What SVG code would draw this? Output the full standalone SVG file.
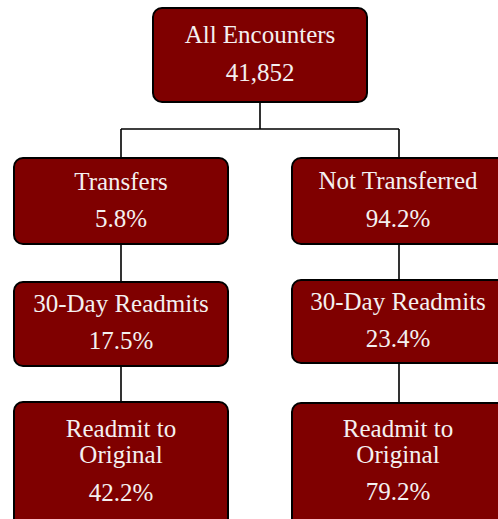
<svg xmlns="http://www.w3.org/2000/svg" width="498" height="519" viewBox="0 0 498 519">
<style>
.box{fill:#7f0000;stroke:#000;stroke-width:2}
.t{font-family:"Liberation Serif",serif;font-size:25px;fill:#f4f0f0;text-anchor:middle}
.c{stroke:#000;stroke-width:1.6;fill:none}
</style>
<rect width="498" height="519" fill="#fff"/>
<g id="connectors">
<path class="c" d="M260 102V129M121 129H399M121 129V158M399 129V158"/>
<path class="c" d="M121 244V282M399 244V280"/>
<path class="c" d="M121 366V402M399 363V403"/>
</g>
<g id="all"><rect class="box" x="153" y="8" width="214" height="94" rx="9"/>
<text class="t" x="260" y="43">All Encounters</text><text class="t" x="260" y="81">41,852</text></g>
<g id="transfers"><rect class="box" x="14" y="158" width="214" height="86" rx="9"/>
<text class="t" x="121" y="190">Transfers</text><text class="t" x="121" y="227">5.8%</text></g>
<g id="nottransferred"><rect class="box" x="292" y="158" width="214" height="86" rx="9"/>
<text class="t" x="398" y="189">Not Transferred</text><text class="t" x="398" y="227">94.2%</text></g>
<g id="readmitsL"><rect class="box" x="14" y="282" width="214" height="84" rx="9"/>
<text class="t" x="121" y="312">30-Day Readmits</text><text class="t" x="121" y="349">17.5%</text></g>
<g id="readmitsR"><rect class="box" x="292" y="280" width="214" height="83" rx="9"/>
<text class="t" x="398" y="310">30-Day Readmits</text><text class="t" x="398" y="347">23.4%</text></g>
<g id="originalL"><rect class="box" x="14" y="402" width="214" height="130" rx="9"/>
<text class="t" x="121" y="437">Readmit to</text><text class="t" x="121" y="463">Original</text><text class="t" x="121" y="501">42.2%</text></g>
<g id="originalR"><rect class="box" x="292" y="403" width="214" height="130" rx="9"/>
<text class="t" x="398" y="437">Readmit to</text><text class="t" x="398" y="463">Original</text><text class="t" x="398" y="500">79.2%</text></g>
</svg>
